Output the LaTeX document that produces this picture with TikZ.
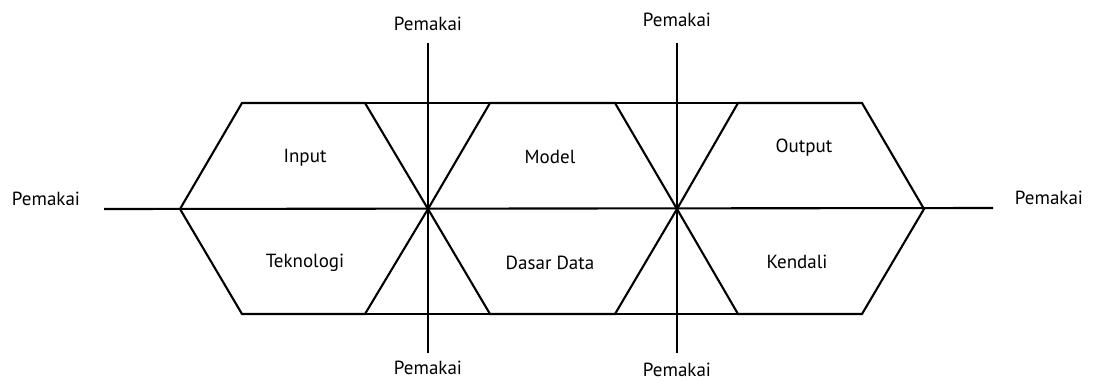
\documentclass[tikz,border=0pt]{standalone}
\usepackage{fontspec}
\setmainfont{PT Sans}
\begin{document}
\begin{tikzpicture}[x=1pt,y=-1pt,
  edge/.style={line width=2.1pt,line join=miter},
  lbl/.style={font=\fontsize{19}{22}\selectfont,inner sep=0pt}]
\useasboundingbox (0,0) rectangle (1095,381);
% vertices
\coordinate (L) at (180,209);
\coordinate (C1) at (428,209);
\coordinate (C2) at (677,209);
\coordinate (R) at (924,209);
\coordinate (t1) at (242,103); \coordinate (t2) at (365,103);
\coordinate (t3) at (490,103); \coordinate (t4) at (615,103);
\coordinate (t5) at (738,103); \coordinate (t6) at (862,103);
\coordinate (b1) at (242,314); \coordinate (b2) at (365,314);
\coordinate (b3) at (490,314); \coordinate (b4) at (615,314);
\coordinate (b5) at (738,314); \coordinate (b6) at (862,314);
% labels
\node[lbl] (pl) at (46,199) {Pemakai};
\node[lbl] (pr) at (1049,198) {Pemakai};
\node[lbl] (pt1) at (428,24) {Pemakai};
\node[lbl] (pt2) at (677,20) {Pemakai};
\node[lbl] (pb1) at (428,368) {Pemakai};
\node[lbl] (pb2) at (677,370) {Pemakai};
\node[lbl] (n1) at (305,158) {Input};
\node[lbl] (n2) at (550,157) {Model};
\node[lbl] (n3) at (804,148) {Output};
\node[lbl] (n4) at (305,263) {Teknologi};
\node[lbl] (n5) at (550,263) {Dasar Data};
\node[lbl] (n6) at (797,262) {Kendali};
% line ends
\coordinate (hl) at (104,209);
\coordinate (hr) at (993,208);
\coordinate (v1t) at (428,43); \coordinate (v1b) at (428,353);
\coordinate (v2t) at (677,43); \coordinate (v2b) at (677,353);
% hexagons
\draw[edge] (L) -- (t1) -- (t2) -- (C1) -- (b2) -- (b1) -- cycle;
\draw[edge] (C1) -- (t3) -- (t4) -- (C2) -- (b4) -- (b3) -- cycle;
\draw[edge] (C2) -- (t5) -- (t6) -- (R) -- (b6) -- (b5) -- cycle;
% connecting lines
\draw[edge] (t2) -- (t3) (t4) -- (t5);
\draw[edge] (b2) -- (b3) (b4) -- (b5);
\draw[edge] (hl) -- (hr);
\draw[edge] (v1t) -- (v1b);
\draw[edge] (v2t) -- (v2b);
\end{tikzpicture}
\end{document}
